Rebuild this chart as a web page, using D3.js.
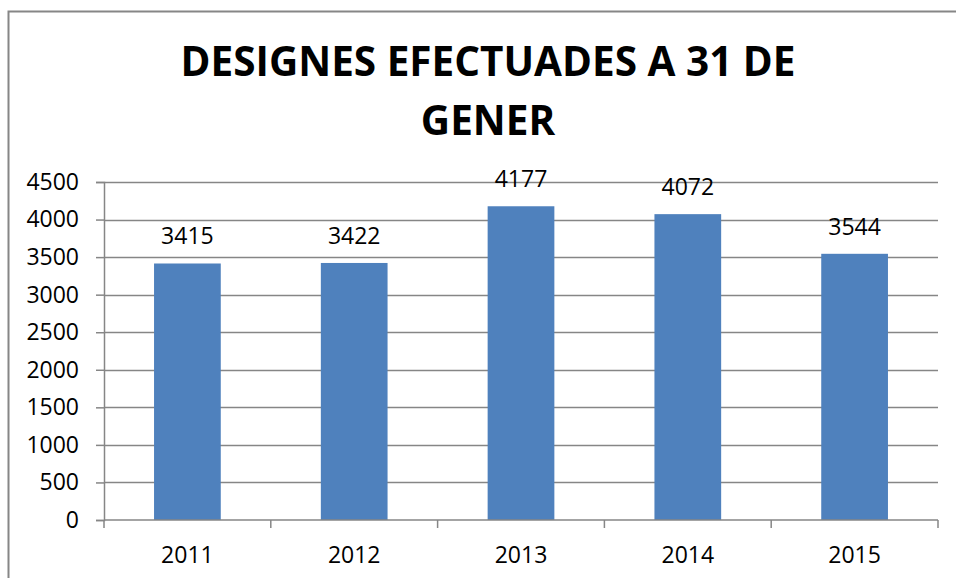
<!DOCTYPE html>
<html>
<head>
<meta charset="utf-8">
<script src="https://cdn.jsdelivr.net/npm/d3@7"></script>
<style>
  body { margin: 0; background: #fff; }
  svg { display: block; font-family: "Open Sans", sans-serif; }
</style>
</head>
<body>
<div id="chart"></div>
<script>
const years = ["2011", "2012", "2013", "2014", "2015"];
const values = [3415, 3422, 4177, 4072, 3544];
const yTicks = [0, 500, 1000, 1500, 2000, 2500, 3000, 3500, 4000, 4500];
const titleLines = ["DESIGNES EFECTUADES A 31 DE", "GENER"];

const W = 956, H = 578;
const margin = { top: 182, right: 18, bottom: 58, left: 104 };
const width = W - margin.left - margin.right;
const height = H - margin.top - margin.bottom;
const gray = "#868686";

const svg = d3.select("#chart").append("svg")
  .attr("width", W).attr("height", H);

// chart frame (clipped on right / bottom like the reference)
svg.append("path")
  .attr("d", `M8.5,${H} L8.5,11.5 L${W},11.5`)
  .attr("fill", "none").attr("stroke", gray).attr("stroke-width", 2);

// title
const title = svg.append("text")
  .attr("text-anchor", "middle")
  .attr("font-weight", "bold")
  .attr("font-size", 40.5)
  .attr("fill", "#000");
title.selectAll("tspan").data(titleLines).enter().append("tspan")
  .attr("x", 488)
  .attr("y", (d, i) => 76 + i * 59)
  .text(d => d);

const g = svg.append("g")
  .attr("transform", `translate(${margin.left},${margin.top})`);

const x = d3.scaleBand().domain(years).range([0, width]).paddingInner(0.6).paddingOuter(0.3);
const y = d3.scaleLinear().domain([0, 4500]).range([height, 0]);

// gridlines
g.append("g")
  .selectAll("line").data(yTicks.slice(1)).enter().append("line")
  .attr("x1", 0).attr("x2", width)
  .attr("y1", d => Math.round(y(d)) + 0.5).attr("y2", d => Math.round(y(d)) + 0.5)
  .attr("stroke", gray).attr("stroke-width", 1.5);

// bars
g.selectAll(".bar").data(values).enter().append("rect")
  .attr("class", "bar")
  .attr("x", (d, i) => x(years[i]))
  .attr("y", d => y(d))
  .attr("width", x.bandwidth())
  .attr("height", d => height - y(d))
  .attr("fill", "#4F81BD");

// value labels
g.selectAll(".val").data(values).enter().append("text")
  .attr("class", "val")
  .attr("x", (d, i) => x(years[i]) + x.bandwidth() / 2)
  .attr("y", d => y(d) - 19)
  .attr("text-anchor", "middle")
  .attr("font-size", 23)
  .text(d => d);

// y axis
const yAxis = g.append("g")
  .call(d3.axisLeft(y).tickValues(yTicks).tickFormat(d3.format("d")).tickSize(8).tickPadding(17));
yAxis.select(".domain").attr("stroke", gray).attr("stroke-width", 1.5);
yAxis.selectAll(".tick line").attr("stroke", gray).attr("stroke-width", 1.5);
yAxis.selectAll(".tick text").attr("font-size", 23).attr("fill", "#000")
  .attr("font-family", "Open Sans");

// x axis, ticks at category boundaries
const xAxis = g.append("g").attr("transform", `translate(0,${height})`);
xAxis.append("line").attr("x1", 0).attr("x2", width)
  .attr("stroke", gray).attr("stroke-width", 1.5);
const step = width / years.length;
xAxis.selectAll(".bt").data(d3.range(years.length + 1)).enter().append("line")
  .attr("x1", i => i * step).attr("x2", i => i * step)
  .attr("y1", 0).attr("y2", 8)
  .attr("stroke", gray).attr("stroke-width", 1.5);
xAxis.selectAll(".xl").data(years).enter().append("text")
  .attr("x", d => x(d) + x.bandwidth() / 2)
  .attr("y", 43)
  .attr("text-anchor", "middle")
  .attr("font-size", 23)
  .text(d => d);
</script>
</body>
</html>
